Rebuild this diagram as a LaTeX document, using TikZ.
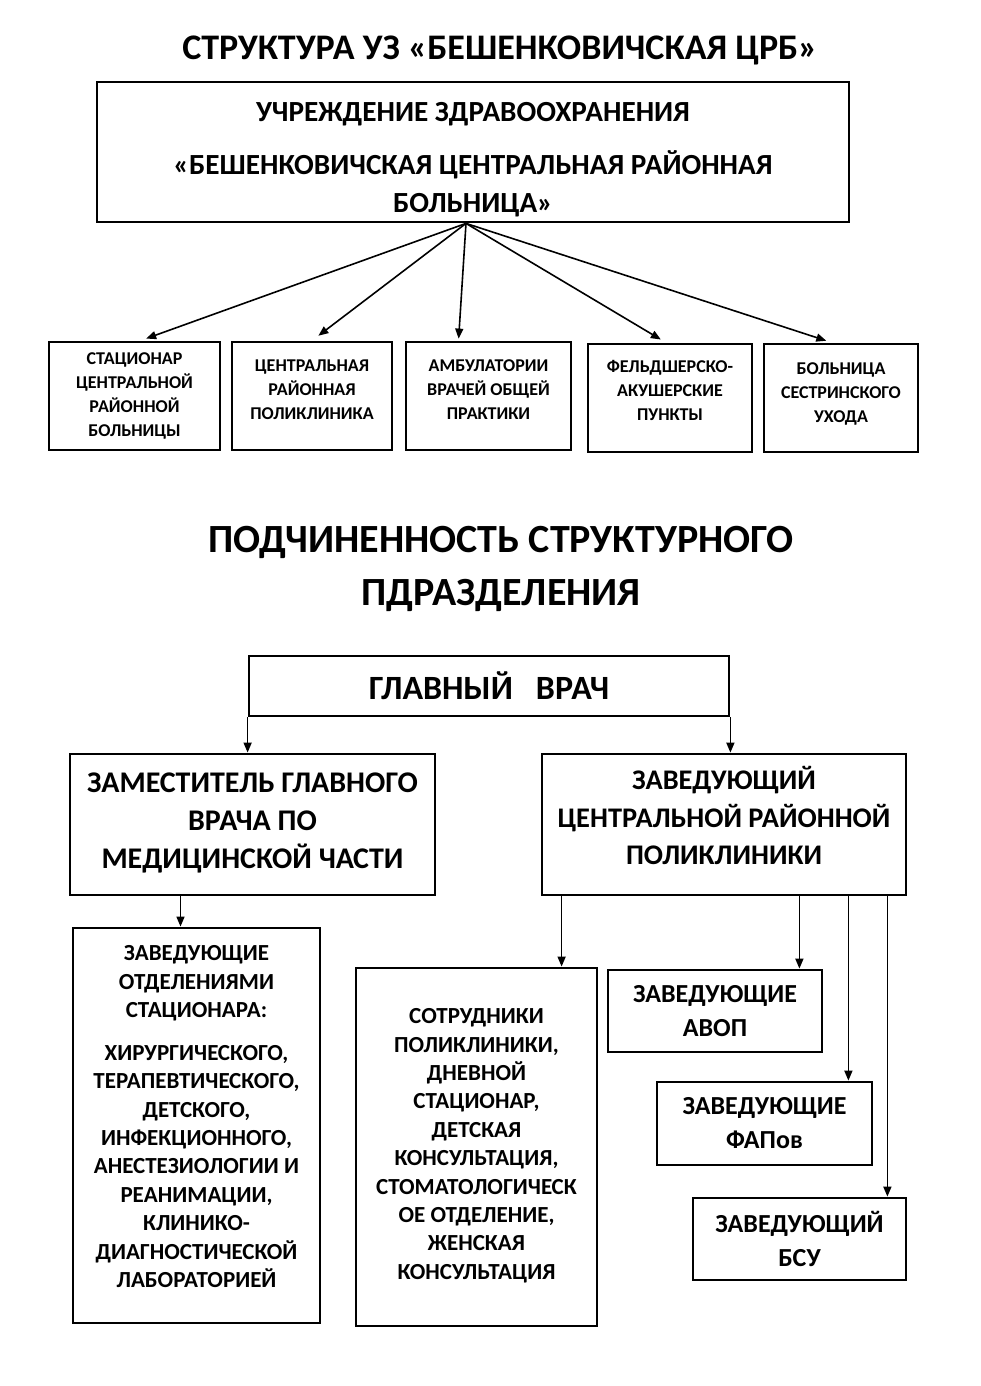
\documentclass[tikz,border=0pt]{standalone}
\usepackage{fontspec}
\setmainfont{Carlito}
\usepackage{tikz}
\usetikzlibrary{arrows.meta, positioning, calc}

% invisible struts to move a text block inside its box
\newcommand{\lowpad}[1]{\rule[-#1]{0pt}{0pt}}
\newcommand{\toppad}[1]{\rule{0pt}{#1}}

\begin{document}
\begin{tikzpicture}[
  x=0.5pt, y=-0.5pt,
  box/.style = {
    rectangle, draw=black, line width=1.4pt,
    align=center, inner sep=1pt, font=\bfseries
  },
  rowbox/.style  = {box, minimum height=54pt, font=\bfseries\fontsize{9}{12}\selectfont},
  headbox/.style = {box, font=\bfseries\fontsize{15}{19}\selectfont},
  subbox/.style  = {box, font=\bfseries\fontsize{11.5}{14.2}\selectfont},
  smallbox/.style = {box, minimum width=107pt, minimum height=41pt,
    font=\bfseries\fontsize{13}{17}\selectfont},
  arr/.style = {-{Triangle[length=5pt, width=4pt]}, line width=0.8pt},
  ttl/.style = {align=center, font=\bfseries\fontsize{18}{21}\selectfont}
]
\fill[white] (0,0) rectangle (980,1386);
\useasboundingbox (0,0) rectangle (980,1386);

%% ---- Structure (top part) ----
\node[ttl] (title1) at (500,50) {СТРУКТУРА УЗ «БЕШЕНКОВИЧСКАЯ ЦРБ»};

\node[headbox, minimum width=376pt, minimum height=70pt,
  font=\bfseries\fontsize{14.6}{19}\selectfont] (crb) at (473,152)
  {\toppad{17pt}УЧРЕЖДЕНИЕ ЗДРАВООХРАНЕНИЯ\\[7.5pt]
   «БЕШЕНКОВИЧСКАЯ ЦЕНТРАЛЬНАЯ РАЙОННАЯ\\ БОЛЬНИЦА»};

\node[rowbox, minimum width=85.5pt] (stac) at (134.5,396)
  {СТАЦИОНАР\\ ЦЕНТРАЛЬНОЙ\\ РАЙОННОЙ\\ БОЛЬНИЦЫ};
\node[rowbox, minimum width=80pt] (polik) at (312,396)
  {ЦЕНТРАЛЬНАЯ\\ РАЙОННАЯ\\ ПОЛИКЛИНИКА\lowpad{6pt}};
\node[rowbox, minimum width=82.5pt] (ambul) at (488.5,396)
  {АМБУЛАТОРИИ\\ ВРАЧЕЙ ОБЩЕЙ\\ ПРАКТИКИ\lowpad{6pt}};
\node[rowbox, minimum width=82pt] (fap) at (670,398)
  {ФЕЛЬДШЕРСКО-\\ АКУШЕРСКИЕ\\ ПУНКТЫ\lowpad{8pt}};
\node[rowbox, minimum width=77pt] (bsu) at (841,398)
  {БОЛЬНИЦА\\ СЕСТРИНСКОГО\\ УХОДА\lowpad{5pt}};

\coordinate (fork) at ([xshift=-3.5pt]crb.south);
\draw[arr, shorten >=3pt] (fork) -- ([xshift=3pt]stac.north);
\draw[arr, shorten >=4pt] (fork) -- (polik.north);
\draw[arr, shorten >=1pt] (fork) -- ([xshift=-15pt]ambul.north);
\draw[arr, shorten >=3pt] (fork) -- ([xshift=-2pt]fap.north);
\draw[arr, shorten >=3pt] (fork) -- ([xshift=-4.5pt]bsu.north);

%% ---- Subordination (bottom part) ----
\node[ttl, font=\bfseries\fontsize{20}{26.5}\selectfont] (title2) at (501,569)
  {ПОДЧИНЕННОСТЬ СТРУКТУРНОГО\\ ПДРАЗДЕЛЕНИЯ};

\node[box, minimum width=240pt, minimum height=30pt,
  font=\bfseries\fontsize{17}{20}\selectfont] (chief) at (489,686)
  {ГЛАВНЫЙ~~~ВРАЧ};

\node[headbox, minimum width=182.5pt, minimum height=70.5pt] (deputy) at (252.5,824.5)
  {ЗАМЕСТИТЕЛЬ ГЛАВНОГО\\ ВРАЧА ПО\\ МЕДИЦИНСКОЙ ЧАСТИ\lowpad{4pt}};
\node[headbox, minimum width=182pt, minimum height=70.5pt,
  font=\bfseries\fontsize{14.2}{18.7}\selectfont] (head) at (724,824.5)
  {ЗАВЕДУЮЩИЙ\\ ЦЕНТРАЛЬНОЙ РАЙОННОЙ\\ ПОЛИКЛИНИКИ\lowpad{9pt}};

\draw[arr] (chief.south west) -- (chief.south west |- deputy.north);
\draw[arr] (chief.south east) -- (chief.south east |- head.north);

\node[subbox, minimum width=123.5pt, minimum height=197.5pt] (wards) at (196.5,1125.5)
  {ЗАВЕДУЮЩИЕ\\ ОТДЕЛЕНИЯМИ\\ СТАЦИОНАРА:\\[7.2pt]
   ХИРУРГИЧЕСКОГО,\\ ТЕРАПЕВТИЧЕСКОГО,\\ ДЕТСКОГО,\\ ИНФЕКЦИОННОГО,\\
   АНЕСТЕЗИОЛОГИИ И\\ РЕАНИМАЦИИ,\\ КЛИНИКО-\\ ДИАГНОСТИЧЕСКОЙ\\ ЛАБОРАТОРИЕЙ\lowpad{9pt}};
\node[subbox, minimum width=120.5pt, minimum height=179pt] (staff) at (476.5,1147)
  {СОТРУДНИКИ\\ ПОЛИКЛИНИКИ,\\ ДНЕВНОЙ\\ СТАЦИОНАР,\\ ДЕТСКАЯ\\ КОНСУЛЬТАЦИЯ,\\
   СТОМАТОЛОГИЧЕСК\\ ОЕ ОТДЕЛЕНИЕ,\\ ЖЕНСКАЯ\\ КОНСУЛЬТАЦИЯ\lowpad{3pt}};

\node[smallbox] (avop) at (715,1011) {ЗАВЕДУЮЩИЕ\\ АВОП};
\node[smallbox, minimum width=107.5pt, minimum height=41.5pt] (faps) at (764.5,1123.5)
  {ЗАВЕДУЮЩИЕ\\ ФАПов};
\node[smallbox, minimum width=106.5pt] (bsuhead) at (799.5,1239)
  {ЗАВЕДУЮЩИЙ\\ БСУ};

\draw[arr] ([xshift=-36pt]deputy.south) -- ([xshift=-36pt]deputy.south |- wards.north);
\draw[arr] ([xshift=10.5pt]head.south west) -- ([xshift=10.5pt]head.south west |- staff.north);
\draw[arr] ([xshift=-54pt]head.south east) -- ([xshift=-54pt]head.south east |- avop.north);
\draw[arr] ([xshift=-29.5pt]head.south east) -- ([xshift=-29.5pt]head.south east |- faps.north);
\draw[arr] ([xshift=-10pt]head.south east) -- ([xshift=-10pt]head.south east |- bsuhead.north);

\end{tikzpicture}
\end{document}
